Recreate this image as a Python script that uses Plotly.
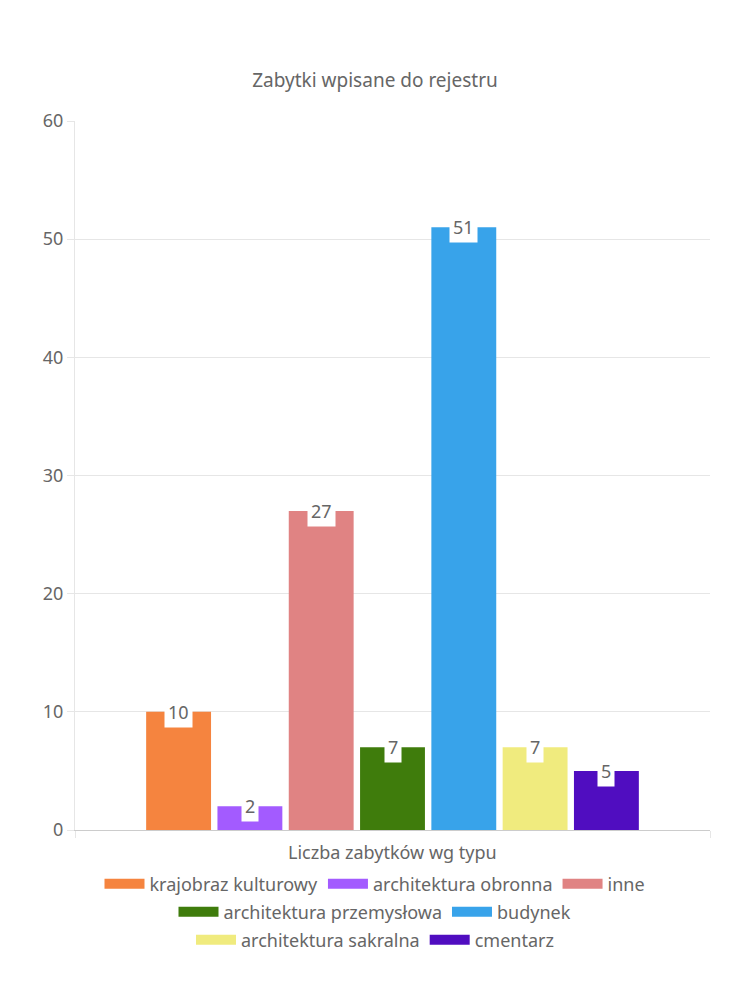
import plotly.graph_objects as go

categories = ["krajobraz kulturowy", "architektura obronna", "inne",
              "architektura przemysłowa", "budynek", "architektura sakralna", "cmentarz"]
values = [10, 2, 27, 7, 51, 7, 5]
colors = ["#F5843F", "#A35BFF", "#E08383", "#3F7C0C", "#38A3EA", "#F0EB7E", "#500DC0"]
legend_rows = ["legend", "legend", "legend", "legend2", "legend2", "legend3", "legend3"]
y_ticks = [0, 10, 20, 30, 40, 50, 60]

FONT = "Noto Sans"
TXT = "#666666"
GRID = "#E6E6E6"
FS = 19

BARGAP = 0.214
GROUPGAP = 0.09

fig = go.Figure()
n = len(categories)
for i, (name, v, c, lg) in enumerate(zip(categories, values, colors, legend_rows)):
    fig.add_trace(go.Bar(x=[0], y=[v], name=name, marker=dict(color=c, line=dict(width=0)),
                         legend=lg, legendgroup=name, showlegend=False, hoverinfo="name+y"))
    # legend swatch (wide rectangle like the original)
    fig.add_trace(go.Scatter(x=[None], y=[None], name=name, mode="lines",
                             line=dict(color=c, width=18), legend=lg, legendgroup=name,
                             hoverinfo="skip"))

group_w = 1 - BARGAP
slot = group_w / n
for i, v in enumerate(values):
    xc = -group_w / 2 + slot * (i + 0.5)
    fig.add_annotation(x=xc, y=v, xref="x", yref="y", text=str(v), showarrow=False,
                       bgcolor="white", borderpad=3, yanchor="middle",
                       font=dict(family=FONT, size=FS - 1, color=TXT))

legend_common = dict(orientation="h", xref="container", yref="container", x=0.5,
                     xanchor="center", yanchor="middle", itemwidth=40,
                     font=dict(family=FONT, size=FS - 1, color=TXT), bgcolor="rgba(0,0,0,0)",
                     itemclick=False, itemdoubleclick=False)

fig.add_annotation(text="Liczba zabytków wg typu", x=0.5, xref="paper",
                   y=-22 / 709, yref="paper", yanchor="middle", showarrow=False,
                   font=dict(family=FONT, size=FS - 1, color=TXT))

fig.update_layout(
    width=750, height=1000,
    margin=dict(l=75, r=40, t=121, b=170),
    paper_bgcolor="white", plot_bgcolor="white",
    barmode="group", bargap=BARGAP, bargroupgap=GROUPGAP,
    title=dict(text="Zabytki wpisane do rejestru", x=0.5, xref="container", xanchor="center",
               y=1 - 80 / 1000, yref="container", yanchor="middle",
               font=dict(family=FONT, size=FS, color=TXT)),
    font=dict(family=FONT, size=FS, color=TXT),
    xaxis=dict(range=[-0.5, 0.5], tickvals=[-0.5, 0.5], showticklabels=False,
               ticks="outside", ticklen=7, tickcolor=GRID, showgrid=True, gridcolor=GRID,
               showline=True, linecolor="#CCCCCC", zeroline=False, fixedrange=True,
               automargin=False),
    yaxis=dict(range=[0, 60], tickvals=y_ticks, ticks="outside", ticklen=7, tickcolor=GRID,
               showgrid=True, gridcolor=GRID, showline=True, linecolor=GRID, zeroline=False,
               tickfont=dict(family=FONT, size=FS - 1, color=TXT), fixedrange=True,
               automargin=False),
    legend=dict(y=1 - 884 / 1000, **legend_common),
    legend2=dict(y=1 - 912 / 1000, **legend_common),
    legend3=dict(y=1 - 940 / 1000, **legend_common),
    showlegend=True,
)

fig.write_html("out.html")
